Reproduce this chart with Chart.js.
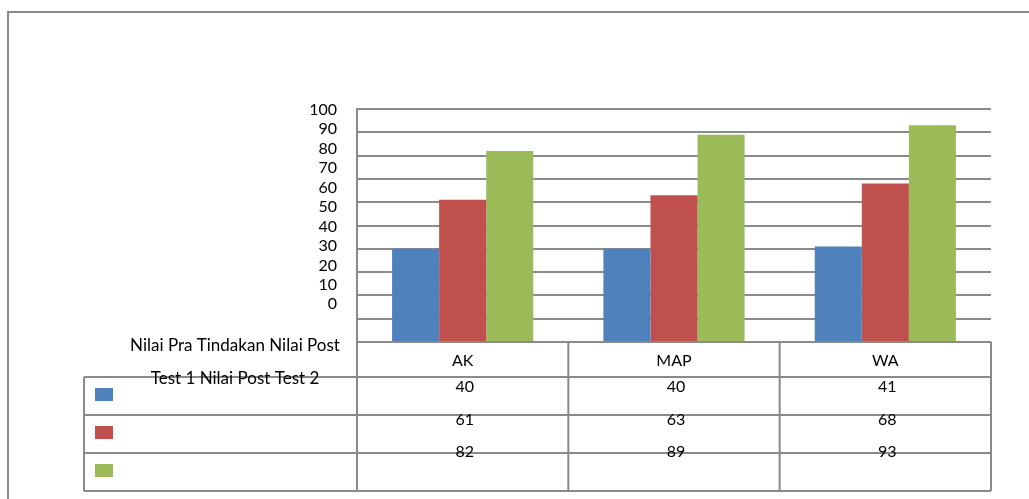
<!DOCTYPE html>
<html>
<head>
<meta charset="utf-8">
<script src="https://cdn.jsdelivr.net/npm/chart.js@4/dist/chart.umd.min.js"></script>
<style>
  html, body { margin: 0; padding: 0; background: #fff; }
  canvas { display: block; }
</style>
</head>
<body>
<canvas id="barChart" width="1029" height="499"></canvas>
<script>
const categories = ['AK', 'MAP', 'WA'];
const seriesNames = ['Nilai Pra Tindakan', 'Nilai Post Test 1', 'Nilai Post Test 2'];
const praTindakan = [40, 40, 41];
const postTest1 = [61, 63, 68];
const postTest2 = [82, 89, 93];
const yTickLabels = [0, 10, 20, 30, 40, 50, 60, 70, 80, 90, 100];

const colors = ['#4F81BD', '#C0504D', '#9BBB59'];
const lineColor = '#8a8a8a';
const font = { family: 'Lato', size: 16 };

// excel style data table under the plot
const dataTable = {
    id: 'dataTable',
    afterDraw(chart) {
        const ctx = chart.ctx;
        const xs = chart.scales.x;
        const area = chart.chartArea;
        const colW = (xs.right - xs.left) / categories.length;
        const headTop = area.bottom;
        const rowTop = headTop + 35;
        const rowH = 38;
        const legendLeft = 84;
        const bottom = rowTop + rowH * chart.data.datasets.length;

        ctx.save();
        ctx.strokeStyle = lineColor;
        ctx.lineWidth = 2;
        ctx.beginPath();
        // outer frame
        ctx.moveTo(8, 499); ctx.lineTo(8, 12); ctx.lineTo(1029, 12);
        // row lines
        for (let i = 0; i <= chart.data.datasets.length; i++) {
            const y = rowTop + i * rowH;
            ctx.moveTo(legendLeft, y); ctx.lineTo(xs.right, y);
        }
        ctx.moveTo(legendLeft, rowTop); ctx.lineTo(legendLeft, bottom);
        for (let i = 0; i <= categories.length; i++) {
            const x = xs.left + i * colW;
            ctx.moveTo(x, headTop); ctx.lineTo(x, bottom);
        }
        ctx.stroke();

        ctx.fillStyle = '#000';
        ctx.textAlign = 'center';
        ctx.textBaseline = 'middle';

        // series names, wrapped like the original
        ctx.font = '17px ' + font.family;
        const words = seriesNames.join(' ').split(' ');
        const lines = [];
        let cur = '';
        words.forEach(w => {
            const t = cur ? cur + ' ' + w : w;
            if (ctx.measureText(t).width > 225 && cur) { lines.push(cur); cur = w; } else { cur = t; }
        });
        lines.push(cur);
        lines.forEach((l, i) => ctx.fillText(l, 235, headTop + 4 + i * 33));

        ctx.font = font.size + 'px ' + font.family;
        chart.data.datasets.forEach((ds, i) => {
            ctx.fillStyle = ds.backgroundColor;
            ctx.fillRect(95, rowTop + i * rowH + 11, 18, 13);
            ctx.fillStyle = '#000';
            ds.data.forEach((v, j) => {
                ctx.fillText(String(v), xs.getPixelForValue(j) + 2, rowTop + 10 + i * 32.5);
            });
        });
        ctx.restore();
    }
};

const ctx = document.getElementById('barChart').getContext('2d');
new Chart(ctx, {
    type: 'bar',
    data: {
        labels: categories,
        datasets: [
            { label: seriesNames[0], data: praTindakan, backgroundColor: colors[0] },
            { label: seriesNames[1], data: postTest1, backgroundColor: colors[1] },
            { label: seriesNames[2], data: postTest2, backgroundColor: colors[2] }
        ]
    },
    options: {
        responsive: false,
        animation: false,
        devicePixelRatio: 1,
        layout: { padding: { left: 297, right: 38, top: 109, bottom: 122 } },
        datasets: { bar: { barPercentage: 1, categoryPercentage: 0.668 } },
        plugins: { legend: { display: false }, tooltip: { enabled: false } },
        scales: {
            x: {
                grid: { display: false, drawTicks: false },
                border: { display: false },
                ticks: { color: '#000', font: font, padding: 9, maxRotation: 0 },
                afterFit: s => { s.height = 35; }
            },
            y: {
                min: 0,
                max: 100,
                weight: 0,
                ticks: { display: false, stepSize: 10 },
                grid: { color: lineColor, lineWidth: 2, drawTicks: false },
                border: { color: lineColor, width: 2 },
                afterFit: s => { s.width = 0; }
            },
            y2: {
                position: 'left',
                weight: 1,
                min: -19.4,
                max: 100.4,
                afterBuildTicks: s => { s.ticks = yTickLabels.map(v => ({ value: v })); },
                ticks: { color: '#000', font: font, padding: 20 },
                grid: { display: false, drawTicks: false },
                border: { display: false },
                afterFit: s => { s.width = 60; }
            }
        }
    },
    plugins: [dataTable]
});
</script>
</body>
</html>
